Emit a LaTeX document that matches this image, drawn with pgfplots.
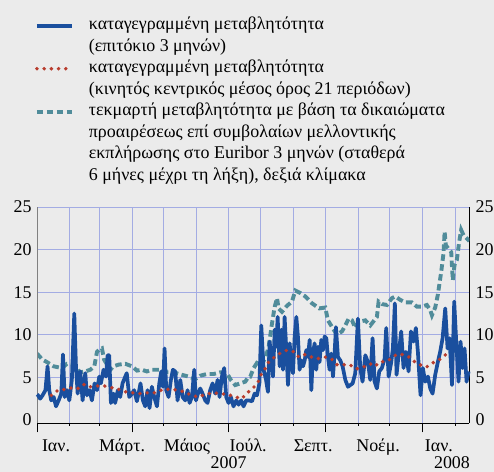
\documentclass[border=0pt]{standalone}
\usepackage{fontspec}
\setmainfont{Liberation Serif}
\usepackage{pgfplots}
\pgfplotsset{compat=1.18}
\definecolor{bg}{HTML}{EBEBEB}
\definecolor{gridc}{HTML}{A3ACE3}
\definecolor{volblue}{HTML}{1A4F9E}
\definecolor{mared}{HTML}{B83C2D}
\definecolor{implteal}{HTML}{508C9A}
\newcommand{\chartfont}{\fontsize{18}{21}\selectfont}
\tikzset{
  blueline/.style={volblue, line width=3.7bp, line join=round},
  redline/.style={mared, line width=3.9bp, line cap=round, dash pattern=on 0bp off 7.2bp},
  tealline/.style={implteal, line width=3.9bp, dash pattern=on 6.5bp off 3.5bp},
}
\pgfplotsset{
  common/.style={at={(37bp,49bp)}, anchor=south west, scale only axis,
    width=432.3bp, height=216bp, xmin=0, xmax=409.4, ymin=-0.35, ymax=25,
    tick label style={font=\chartfont},
    /pgf/number format/assume math mode=true},
}
\begin{document}
\begin{tikzpicture}[x=1bp,y=1bp]
\fill[bg] (0,0) rectangle (494,472);
\useasboundingbox (0,0) rectangle (494,472);
% ---------- axis 1: right scale, grid, implied volatility ----------
\begin{axis}[common,
  axis x line*=bottom, axis y line*=right,
  axis line style={black, line width=0.8bp},
  xtick={0,31,59,90,120,151,181,212,243,273,304,334,365,396},
  xticklabels={},
  tick align=outside,
  major tick length=2.8bp,
  xtick style={black, line width=0.8bp},
  ytick style={draw=none},
  xmajorgrids, ymajorgrids,
  grid style={gridc, line width=0.8bp},
  ytick={5,10,15,20,25},
  extra y ticks={0}, extra y tick style={grid=none},
  yticklabel style={xshift=0bp},
]
\addplot[tealline] coordinates {
(0,7.8) (5,7.1) (9.4,6.8) (15.8,6.3) (23.6,6.1) (28.4,6.6) (31.5,6.6) (35.3,6.5)
(40.4,5.6) (45.7,5.7) (50.5,5.9) (54.3,6.3) (56.8,8.0) (58.5,8.2) (61.5,8.4)
(63.5,7.1) (66.3,6.5) (69.4,5.9) (72.5,6.3) (77.3,6.5) (83.6,6.6) (90,6.3)
(94.7,5.8) (99.3,5.9) (104.1,5.7) (108.9,5.9) (112,5.9) (118.3,5.9) (123,5.6)
(129.3,5.6) (137.3,5.3) (143.6,5.1) (149.9,4.8) (154.6,5.2) (160.9,5.4)
(167.3,5.4) (173.6,5.6) (179.8,5.5) (183.6,4.7) (187.7,4.1) (192.4,4.3)
(197.2,4.5) (200.4,5.1) (202,5.1) (205.2,6.1) (208.3,6.7) (211.5,6.5)
(216.2,7.2) (219.4,8.6) (222.5,11.3) (225.1,13.3) (227.3,14.3) (228.8,13.1)
(232,12.7) (236.7,13.4) (241.5,13.9) (244.6,15.2) (249.4,14.9) (254.1,14.5)
(260.4,13.7) (267.3,13.1) (273,13.2) (275.5,11.7) (280,10.8) (284,10.0)
(288.8,10.4) (292,11.1) (295.1,11.9) (298.3,11.7) (301.4,10.8) (304.6,11.5)
(310.9,11.7) (315.6,11.1) (321.9,12.1) (323.5,13.9) (327,13.6) (331.4,13.5)
(336.1,14.3) (339.3,14.5) (344,14.1) (348.7,13.8) (355,13.8) (359.8,13.3)
(364.5,13.3) (369.2,13.5) (372.4,12.9) (374,12.3) (377.1,13.2) (379.6,14.7)
(382.8,17.4) (385,19.6) (386,22.1) (387.2,20.5) (389.7,20.1) (392.3,19.7)
(392.9,18.2) (393.8,16.4) (395.4,18.2) (397.6,18.8) (399.8,20.9) (401.7,22.3)
(403.9,21.7) (407.1,21.3) (409.4,21.0)
};
\end{axis}
% ---------- axis 3: long quarter ticks ----------
\begin{axis}[common,
  axis x line*=bottom, axis y line=none,
  axis line style={black, line width=0.8bp},
  xtick={0,90,181,273,365}, xticklabels={},
  tick align=outside, major tick length=9.5bp,
  xtick style={black, line width=0.8bp},
  ytick=\empty,
]
\end{axis}
% ---------- axis 2: left scale, recorded volatility ----------
\begin{axis}[common,
  axis x line*=bottom, axis y line*=left,
  x axis line style={black, line width=0.8bp},
  y axis line style={gray, line width=0.8bp},
  xtick={18,80.5,142,200,261.5,323,380.6},
  xticklabels={Ιαν.,Μάρτ.,Μάιος,Ιούλ.,Σεπτ.,Νοέμ.,Ιαν.},
  xtick style={draw=none}, ytick style={draw=none},
  major tick length=0pt,
  ytick={0,5,10,15,20,25},
  xticklabel style={anchor=base, yshift=-28.5bp, inner sep=0pt},
  yticklabel style={xshift=-2bp},
  clip=false,
  legend image code/.code={\draw[#1] (0bp,0bp) -- (35bp,0bp);},
  legend style={at={(-0.0046,1.889)}, anchor=north west, draw=none, fill=none,
    inner sep=0pt, outer sep=0pt, row sep=0pt, column sep=15bp,
    nodes={inner sep=0pt, text height=15bp, text depth=6.5bp, font=\chartfont}},
  legend cell align=left,
]
\addplot[blueline, forget plot] coordinates {
(0,3.0) (1,2.9) (3,2.5) (5.3,2.9) (8,3.5) (10,6.3) (11.6,3.5) (13.5,2.3) (15.8,2.7)
(18,1.6) (20.5,2.3) (23,3.1) (24.6,7.7) (26.2,2.7) (28.4,3.5) (30.6,2.3) (33,4.7)
(35.3,12.5) (36.9,6.3) (38.5,3.1) (41,5.7) (43.2,2.3) (45.7,5.5) (47.3,2.9)
(49.8,3.5) (52,2.3) (54.5,4.3) (56.8,3.5) (59,5.1) (60.5,4.3) (63,5.9) (65.3,5.1)
(66.9,7.6) (68.4,7.6) (70,2.0) (72.5,3.1) (74,2.0) (76.6,3.5) (78.8,2.7) (81,4.3)
(83.6,5.1) (85,5.5) (87.4,2.7) (89.9,3.1) (92,3.5) (94.6,2.2) (96.8,3.5) (98,4.3)
(100.3,2.3) (102.5,1.6) (104.7,3.5) (106.6,1.4) (108.8,3.9) (111,2.7) (113.6,1.6)
(115.8,4.3) (117.7,5.7) (119.3,3.9) (120.8,8.4) (122.4,3.5) (124.6,2.7) (126.8,4.7)
(128.7,5.9) (130.9,5.7) (133.1,2.3) (135.7,4.7) (137.9,2.7) (140.4,2.3) (142.6,3.5)
(144.5,2.0) (146.7,2.7) (148.9,5.9) (150.5,2.3) (152.4,3.1) (154.6,3.7) (156.8,3.1)
(159.3,2.3) (161.5,2.0) (164,3.5) (166.3,4.3) (168.8,3.1) (171,4.7) (172.9,2.7)
(175.1,5.1) (177.3,6.1) (179.2,2.7) (181.4,2.0) (183.6,2.7) (186.1,1.6) (188.7,2.3)
(190.9,1.8) (193.4,2.3) (195.6,1.6) (198.1,2.3) (200.5,2.3) (203.6,2.2) (206.1,3.1)
(208.3,2.9) (210.6,4.3) (212.4,11.1) (214.6,5.9) (216.9,4.7) (218.7,3.3) (220.3,9.2)
(221.9,7.4) (223.5,5.1) (225.1,10.6) (226.6,8.6) (227.9,12.1) (229.8,6.3)
(231.4,10.6) (233,5.9) (234.5,12.1) (236.1,8.2) (237.7,4.1) (239.3,9.0) (240.8,6.6)
(242.4,5.5) (244,9.8) (245.6,12.1) (247.1,9.8) (248.7,5.9) (250.3,7.0) (251.9,6.3)
(253.5,7.0) (255,8.2) (256.6,7.4) (258.2,9.4) (259.8,3.5) (261.3,7.8) (262.9,9.0)
(264.5,5.9) (266.1,8.6) (267.6,6.8) (269.2,9.4) (270.8,8.2) (272.4,9.8) (274,9.6)
(275.5,7.4) (277.1,5.9) (278.7,7.8) (280.3,5.1) (281.8,7.8) (283.1,10.9) (285,7.4)
(287.2,7.0) (289.4,6.3) (292,4.7) (294.5,3.9) (296.7,4.1) (298.9,4.3) (301.4,5.5)
(303.9,11.9) (306.1,6.1) (308.3,4.5) (310.9,7.6) (313.4,6.8) (315.6,4.7) (317.8,9.6)
(319.7,4.5) (321.9,3.7) (324.1,5.7) (326.6,6.1) (329.2,7.2) (330.7,10.8) (333,5.1)
(335.5,6.8) (337,8.4) (338.9,13.7) (340.5,5.3) (342.4,7.6) (344.9,10.4) (347.1,6.1)
(349.3,8.0) (351.9,5.7) (354.1,10.4) (356.6,9.2) (358.8,10.8) (360.7,8.0) (363.2,2.9)
(365.4,6.1) (367.6,4.5) (370.2,5.1) (372.4,3.7) (374.6,3.1) (377.1,5.3) (379.6,6.8)
(381.8,8.0) (384.1,9.6) (386.6,13.1) (388.8,8.4) (390.7,9.6) (393,4.1) (395.1,13.9)
(397,9.2) (399.2,4.5) (401.1,9.2) (403,6.1) (404.9,8.4) (406.8,4.5) (408.7,5.7)
};
\addplot[redline, forget plot] coordinates {
(13.5,2.9) (19.9,3.5) (26.8,3.6) (33.7,3.8) (39.4,3.7) (45.1,4.2) (50.5,3.9)
(56.8,4.0) (63.7,4.0) (70.3,3.8) (77.3,3.6) (84.2,3.3) (90.5,3.2) (97.8,3.1)
(105.7,3.2) (112.6,3.2) (119.3,3.6) (126.8,3.6) (133.4,3.5) (139.8,3.3) (146,2.9)
(153,2.7) (159.3,3.0) (166.3,3.2) (173.5,3.1) (180.8,3.0) (187.7,2.7) (194,2.5)
(198.2,3.1) (204.2,3.7) (209.3,4.4) (211.5,5.2) (215.6,5.9) (218.7,6.7) (224.1,7.3)
(229.8,7.8) (236.7,8.2) (243.7,8.0) (247.8,7.4) (254.1,7.7) (259.8,7.4) (266.1,7.2)
(272.4,7.4) (278.7,7.2) (284,6.5) (289.7,6.5) (296,6.5) (302.3,6.0) (308.7,6.2)
(315.6,6.6) (320.3,6.3) (324.1,6.8) (330.4,6.9) (335.5,7.2) (340.5,7.7) (345.6,7.7)
(351.2,7.5) (355.7,7.0) (362.3,6.5) (368.6,6.2) (374.6,6.7) (380.3,7.0) (385,7.5)
(391.3,8.0)
};
\addlegendimage{blueline}
\addlegendentry{καταγεγραμμένη μεταβλητότητα}
\addlegendimage{empty legend}
\addlegendentry{(επιτόκιο 3 μηνών)}
\addlegendimage{redline}
\addlegendentry{καταγεγραμμένη μεταβλητότητα}
\addlegendimage{empty legend}
\addlegendentry{(κινητός κεντρικός μέσος όρος 21 περιόδων)}
\addlegendimage{tealline}
\addlegendentry{τεκμαρτή μεταβλητότητα με βάση τα δικαιώματα}
\addlegendimage{empty legend}
\addlegendentry{προαιρέσεως επί συμβολαίων μελλοντικής}
\addlegendimage{empty legend}
\addlegendentry{εκπλήρωσης στο Euribor 3 μηνών (σταθερά}
\addlegendimage{empty legend}
\addlegendentry{6 μήνες μέχρι τη λήξη), δεξιά κλίμακα}
\node[anchor=base, yshift=-48.5bp, font=\chartfont] at (axis cs:181.4,0) {2007};
\node[anchor=base, yshift=-48.5bp, font=\chartfont] at (axis cs:393,0) {2008};
\end{axis}
\end{tikzpicture}
\end{document}
